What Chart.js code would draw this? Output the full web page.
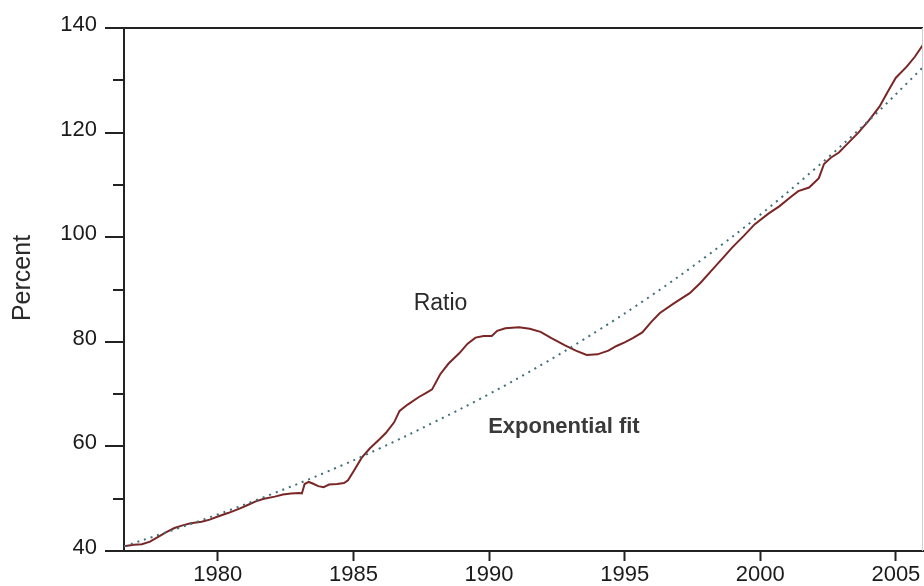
<!DOCTYPE html>
<html>
<head>
<meta charset="utf-8">
<script src="https://cdn.jsdelivr.net/npm/chart.js@4/dist/chart.umd.min.js"></script>
<style>
  html, body { margin: 0; padding: 0; background: #ffffff; }
  canvas { display: block; }
</style>
</head>
<body>
<canvas id="c" width="924" height="586"></canvas>
<script>
// ---- Data ----
const ratioYears = [1976.54,1976.9,1977.2,1977.5,1977.8,1978.1,1978.4,1978.7,1979.0,1979.4,1979.7,
  1980.0,1980.4,1980.8,1981.1,1981.4,1981.7,1982.1,1982.4,1982.7,1983.0,1983.1,1983.2,1983.35,1983.5,
  1983.7,1983.9,1984.1,1984.4,1984.65,1984.8,1985.0,1985.3,1985.6,1985.97,1986.2,1986.5,1986.7,1987.0,
  1987.4,1987.7,1987.9,1988.2,1988.5,1988.9,1989.2,1989.5,1989.8,1990.1,1990.3,1990.6,1991.1,1991.5,
  1991.9,1992.3,1992.8,1993.2,1993.6,1994.0,1994.4,1994.7,1995.0,1995.3,1995.65,1996.0,1996.3,1996.8,
  1997.4,1997.8,1998.2,1998.6,1998.96,1999.4,1999.8,2000.3,2000.7,2001.1,2001.4,2001.8,2002.16,2002.35,
  2002.6,2002.9,2003.2,2003.6,2004.0,2004.4,2004.7,2005.0,2005.4,2005.7,2006.0];
const ratioValues = [40.9,41.2,41.3,41.8,42.7,43.6,44.4,44.9,45.3,45.6,46.0,
  46.6,47.3,48.1,48.8,49.5,50.0,50.4,50.8,51.0,51.1,51.0,52.8,53.2,52.9,
  52.4,52.2,52.7,52.8,53.0,53.5,55.2,57.8,59.6,61.4,62.6,64.6,66.8,68.0,
  69.4,70.3,70.9,73.8,75.8,77.8,79.6,80.8,81.1,81.1,82.1,82.6,82.8,82.5,
  81.9,80.7,79.3,78.3,77.5,77.6,78.3,79.2,79.9,80.7,81.8,83.9,85.5,87.3,
  89.3,91.3,93.6,95.9,98.0,100.3,102.5,104.5,105.9,107.6,108.8,109.5,111.3,114.0,
  115.2,116.2,117.8,119.9,122.3,125.0,127.8,130.5,132.6,134.5,136.8];

const fitYears  = [1976.54,1978,1980,1982,1984,1986,1988,1990,1992,1994,1996,1998,2000,2002,2004,2006];
const fitValues = [40.9,43.4,47.0,50.9,55.1,59.7,64.7,70.0,75.8,82.1,88.9,96.3,104.3,113.0,122.3,132.5];

const xTickYears = [1980,1985,1990,1995,2000,2005];
const yMajorTicks = [40,60,80,100,120,140];
const yMinorTicks = [50,70,90,110,130];

const axisTitle = "Percent";
const notes = [
  { text: "Ratio", year: 1988.21, value: 87.2, font: "23px 'Liberation Sans', Arial, sans-serif", color: "#2a2a2a" },
  { text: "Exponential fit", year: 1992.76, value: 63.7, font: "bold 22px 'Liberation Sans', Arial, sans-serif", color: "#3a3a3a" }
];

const X_MIN = 1976.54, X_MAX = 2006.0, Y_MIN = 40, Y_MAX = 140;
const AXIS = "#222222";

const extras = {
  id: 'extras',
  afterDraw(chart) {
    const ctx = chart.ctx, ca = chart.chartArea;
    const xs = chart.scales.x, ys = chart.scales.y;
    ctx.save();
    // minor y ticks
    ctx.strokeStyle = AXIS; ctx.lineWidth = 2;
    yMinorTicks.forEach(v => {
      const py = Math.round(ys.getPixelForValue(v));
      ctx.beginPath(); ctx.moveTo(ca.left - 11, py); ctx.lineTo(ca.left, py); ctx.stroke();
    });
    // faint right border
    ctx.strokeStyle = "#cfcfcf"; ctx.lineWidth = 1;
    ctx.beginPath(); ctx.moveTo(ca.right - 0.5, ca.top); ctx.lineTo(ca.right - 0.5, ca.bottom); ctx.stroke();
    // annotations
    ctx.textAlign = "center"; ctx.textBaseline = "middle";
    notes.forEach(n => {
      ctx.font = n.font; ctx.fillStyle = n.color;
      ctx.fillText(n.text, xs.getPixelForValue(n.year), ys.getPixelForValue(n.value));
    });
    // y-axis title
    ctx.translate(23, 278);
    ctx.rotate(-Math.PI / 2);
    ctx.font = "25px 'Liberation Sans', Arial, sans-serif";
    ctx.fillStyle = "#2a2a2a";
    ctx.fillText(axisTitle, 0, 0);
    ctx.restore();
  }
};

new Chart(document.getElementById('c'), {
  type: 'line',
  data: {
    datasets: [
      {
        label: 'Exponential fit',
        data: fitYears.map((y, i) => ({ x: y, y: fitValues[i] })),
        borderColor: '#3f6f78',
        borderWidth: 2,
        borderDash: [2, 5],
        pointRadius: 0,
        tension: 0.4,
        fill: false
      },
      {
        label: 'Ratio',
        data: ratioYears.map((y, i) => ({ x: y, y: ratioValues[i] })),
        borderColor: '#7a2626',
        borderWidth: 2,
        pointRadius: 0,
        tension: 0,
        fill: false
      }
    ]
  },
  options: {
    responsive: false,
    animation: false,
    events: [],
    layout: { padding: { top: 28, right: 1, left: 0, bottom: 0 } },
    plugins: { legend: { display: false }, tooltip: { enabled: false } },
    scales: {
      x: {
        type: 'linear',
        min: X_MIN, max: X_MAX,
        afterBuildTicks: s => { s.ticks = xTickYears.map(v => ({ value: v })); },
        afterFit: s => { s.height = 35; },
        border: { display: true, color: AXIS, width: 2 },
        grid: { drawOnChartArea: false, drawTicks: true, tickLength: 10, tickColor: AXIS, tickWidth: 2 },
        ticks: {
          autoSkip: false, maxRotation: 0, padding: 1,
          color: '#1a1a1a',
          font: { family: "'Liberation Sans', Arial, sans-serif", size: 22 },
          callback: v => String(v)
        }
      },
      y: {
        type: 'linear',
        min: Y_MIN, max: Y_MAX,
        afterBuildTicks: s => { s.ticks = yMajorTicks.map(v => ({ value: v })); },
        afterFit: s => { s.width = 124; },
        border: { display: true, color: AXIS, width: 2 },
        grid: {
          drawOnChartArea: true,
          color: c => (c.tick && c.tick.value === Y_MAX) ? AXIS : 'rgba(0,0,0,0)',
          lineWidth: 2,
          tickLength: 19, tickColor: AXIS, tickWidth: 2
        },
        ticks: {
          padding: 8, labelOffset: -3,
          color: '#1a1a1a',
          font: { family: "'Liberation Sans', Arial, sans-serif", size: 22 },
          callback: v => String(v)
        }
      }
    }
  },
  plugins: [extras]
});
</script>
</body>
</html>
